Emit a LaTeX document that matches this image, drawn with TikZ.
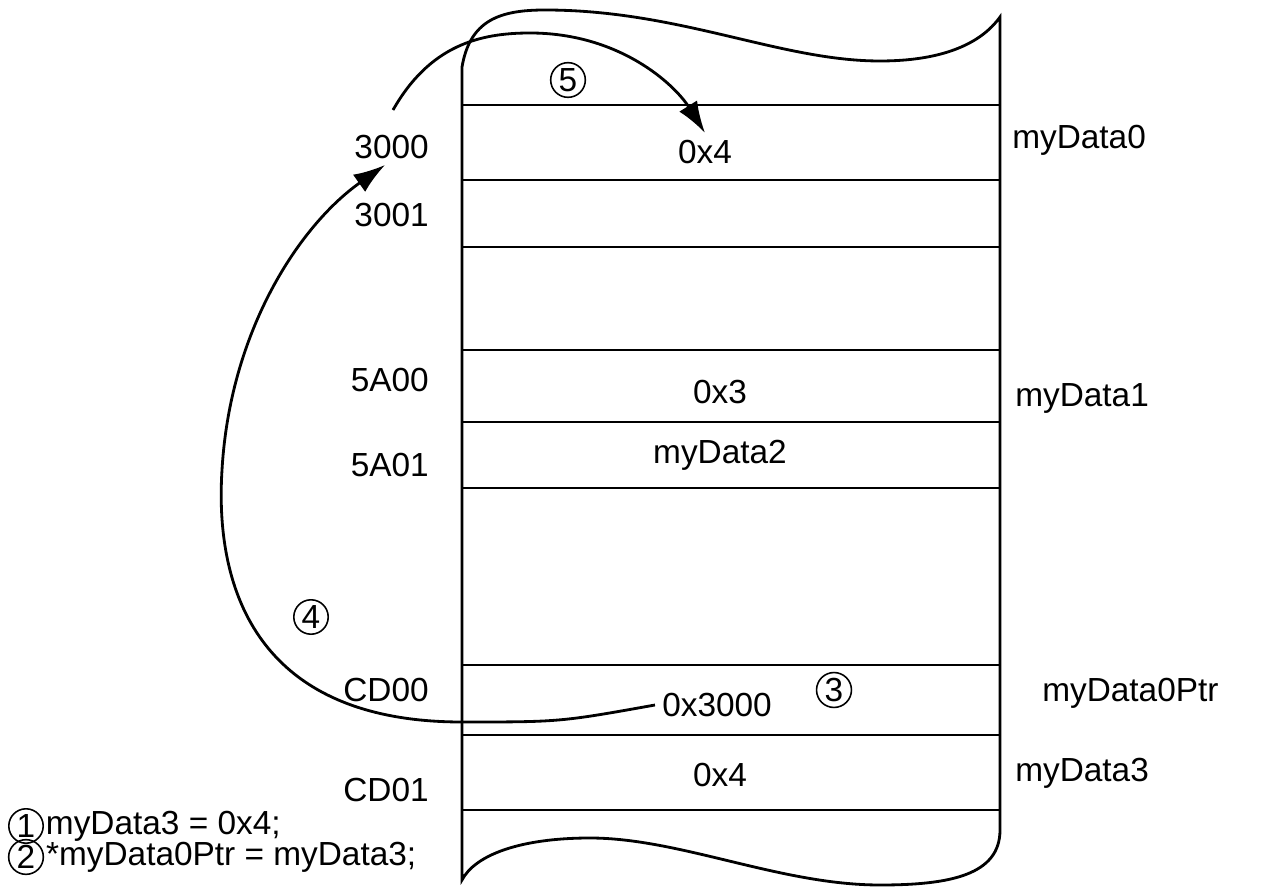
\documentclass[tikz,border=0pt]{standalone}
\usepackage{fontspec}
\setmainfont{Liberation Sans}
\usetikzlibrary{arrows.meta,positioning}

\begin{document}
\begin{tikzpicture}[x=0.02cm, y=-0.02cm, line width=1.6pt,
  font=\fontsize{19}{21}\selectfont,
  num/.style={draw, circle, line width=0.9pt, inner sep=1pt, font=\fontsize{19}{19}\selectfont},
  ptr/.style={-{Latex[length=18pt,width=12pt]}}]
  \useasboundingbox (0,0) rectangle (1274,891);
  % Memory column with torn top and bottom
  \draw (462,880) -- (462,67) .. controls (470,20) and (500,10) .. (545,10)
    .. controls (680,10) and (780,61) .. (880,61)
    .. controls (940,61) and (980,45) .. (1000,17) -- (1000,830)
    .. controls (1000,875) and (950,885) .. (880,885)
    .. controls (780,885) and (680,838) .. (590,838)
    .. controls (520,838) and (475,855) .. (462,880) -- cycle;
  \foreach \y in {105,180,247,350,422,488,665,735,810} {
    \draw (462,\y) -- (1000,\y);
  }
  % Addresses
  \foreach \n/\t/\y in {a3000/3000/147, a3001/3001/215, a5A00/5A00/380,
                        a5A01/5A01/465, aCD00/CD00/690, aCD01/CD01/790} {
    \node[anchor=east] (\n) at (436,\y) {\t};
  }
  % Cell contents
  \node (c0) at (705,152) {0x4};
  \node (c1) at (720,392) {0x3};
  \node (c2) at (720,455) {myData2};
  \node (v3000) at (717,705) {0x3000};
  \node (c3) at (720,775) {0x4};
  % Variable names
  \node[anchor=west] (d0) at (1005,140) {myData0};
  \node[anchor=west] (d1) at (1008,398) {myData1};
  \node[anchor=west] (dp) at (1035,693) {myData0Ptr};
  \node[anchor=west] (d3) at (1008,773) {myData3};
  % Step numbers
  \node[num] (n5) at (568,80) {5};
  \node[num] (n4) at (311,617) {4};
  \node[num] (n3) at (834,690) {3};
  \node[num] (n1) at (26,826) {1};
  \node[num] (n2) at (26,857) {2};
  \node[right=-3pt of n1] (l1) {myData3 = 0x4;};
  \node[right=-3pt of n2] (l2) {*myData0Ptr = myData3;};
  % Pointer arrows
  \coordinate (s5) at (393,110);
  \coordinate (t4) at (385,165);
  \draw[ptr] (s5) .. controls (430,45) and (480,33) .. (530,33)
    .. controls (620,33) and (675,85) .. (c0.north);
  \draw[ptr] (v3000.west) .. controls (560,722) .. (462,722)
    .. controls (250,722) and (215,580) .. (222,470)
    .. controls (230,330) and (300,225) .. (t4);
\end{tikzpicture}
\end{document}
